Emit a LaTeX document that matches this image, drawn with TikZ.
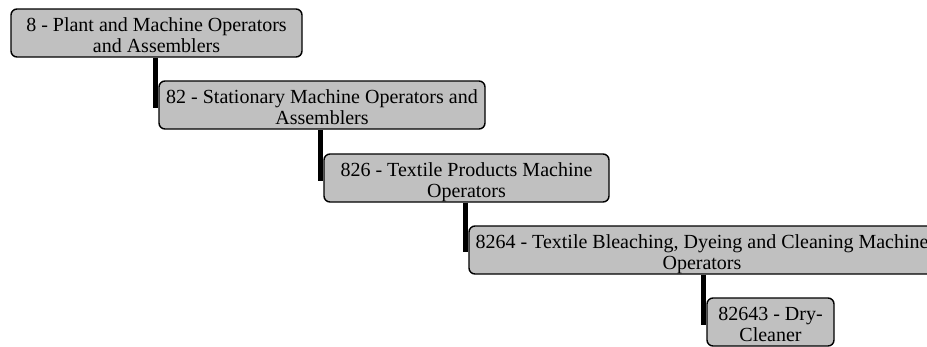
\documentclass[tikz,border=0pt]{standalone}
\usepackage{fontspec}
\setmainfont{Liberation Serif}
\begin{document}
\begin{tikzpicture}[x=1pt,y=-1pt,
  box/.style={draw=black,line width=1.4pt,fill=boxgray,rounded corners=6pt,inner sep=0pt,minimum height=48pt},
  lbl/.style={anchor=base,inner sep=0pt,font=\fontsize{20}{21.5}\selectfont},
  conn/.style={draw=black,line width=5pt}]
\definecolor{boxgray}{RGB}{192,192,192}
\useasboundingbox (0,0) rectangle (927,346);
\clip (0,0) rectangle (927,346);
% boxes (shapes only)
\node[box,minimum width=291pt] (b1) at (156.5,33) {};
\node[box,minimum width=326pt] (b2) at (322,105) {};
\node[box,minimum width=285pt] (b3) at (466.5,178) {};
\node[box,minimum width=466pt] (b4) at (702,250) {};
\node[box,minimum width=127pt] (b5) at (770.5,322) {};
% connectors
\draw[conn] ([xshift=-2.5pt]b2.west |- b1.south) -- ([xshift=-2.5pt,yshift=-2.5pt]b2.west);
\draw[conn] ([xshift=-2.5pt]b3.west |- b2.south) -- ([xshift=-2.5pt,yshift=-3pt]b3.west);
\draw[conn] ([xshift=-2.5pt]b4.west |- b3.south) -- ([xshift=-2.5pt,yshift=-2pt]b4.west);
\draw[conn] ([xshift=-2.5pt]b5.west |- b4.south) -- ([xshift=-2.5pt,yshift=-3pt]b5.west);
% labels
\node[lbl] (t1a) at (156.5,31) {8 - Plant and Machine Operators};
\node[lbl] (t1b) at (156.5,52.5) {and Assemblers};
\node[lbl] (t2a) at (322,103) {82 - Stationary Machine Operators and};
\node[lbl] (t2b) at (322,124.5) {Assemblers};
\node[lbl] (t3a) at (466.5,176) {826 - Textile Products Machine};
\node[lbl] (t3b) at (466.5,197.5) {Operators};
\node[lbl] (t4a) at (702,248) {8264 - Textile Bleaching, Dyeing and Cleaning Machine};
\node[lbl] (t4b) at (702,269.5) {Operators};
\node[lbl] (t5a) at (770.5,320) {82643 - Dry-};
\node[lbl] (t5b) at (770.5,341.5) {Cleaner};
\end{tikzpicture}
\end{document}
